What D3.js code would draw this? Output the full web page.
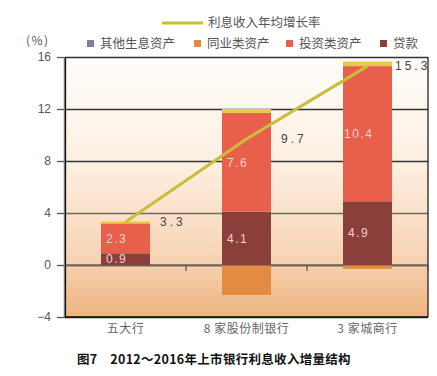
<!doctype html>
<html lang="zh">
<head>
<meta charset="UTF-8" />
<script src="https://d3js.org/d3.v7.min.js"></script>
<style>
  body { margin: 0; background: #fff; }
  svg { display: block; font-family: 'Noto Sans CJK SC', 'Noto Sans', sans-serif; }
</style>
</head>
<body>
<svg id="chart" width="437" height="376"></svg>
<script>
  // categories and series
  const categories = ['五大行', '8 家股份制银行', '3 家城商行']
  const loans = [0.9, 4.1, 4.9]
  const investment = [2.3, 7.6, 10.4]
  const interbank = [0, -2.3, -0.3]
  const otherAssets = [0.15, 0.3, 0.35]
  const growthRate = [3.3, 9.7, 15.3]
  const yTicks = [-4, 0, 4, 8, 12, 16]

  const colors = {
    other: '#8b78a6',
    otherBar: '#e9c94c',
    interbank: '#e38a43',
    investment: '#e8604c',
    loans: '#8b3f3b',
    line: '#cbbd3a'
  }

  const svg = d3.select('#chart')
  const margin = { left: 65, right: 9, top: 57, bottom: 59 }
  const W = 437 - margin.left - margin.right
  const H = 376 - margin.top - margin.bottom

  const x = d3.scaleBand().domain(categories).range([0, W]).paddingInner(0).paddingOuter(0)
  const y = d3.scaleLinear().domain([-4, 16]).range([H, 0])
  const barW = 49

  const defs = svg.append('defs')
  const grad = defs.append('linearGradient').attr('id', 'bg').attr('x1', 0).attr('y1', 0).attr('x2', 0).attr('y2', 1)
  grad.append('stop').attr('offset', '0%').attr('stop-color', '#fffdfb')
  grad.append('stop').attr('offset', '40%').attr('stop-color', '#fdf0e2')
  grad.append('stop').attr('offset', '75%').attr('stop-color', '#f8d6b7')
  grad.append('stop').attr('offset', '100%').attr('stop-color', '#efb482')

  const g = svg.append('g').attr('transform', `translate(${margin.left},${margin.top})`)

  // plot background
  g.append('rect').attr('width', W).attr('height', H).attr('fill', 'url(#bg)')
  g.append('line').attr('x1', 0).attr('x2', W).attr('y1', H - 1.5).attr('y2', H - 1.5)
    .attr('stroke', '#f2b0b0').attr('stroke-width', 1)

  // gridlines + y axis
  const yAxis = g.append('g')
    .call(d3.axisLeft(y).tickValues(yTicks).tickSize(-W).tickPadding(14).tickFormat(d => d < 0 ? '−' + Math.abs(d) : d))
  yAxis.select('.domain').remove()
  yAxis.selectAll('.tick line')
    .attr('stroke', d => d === 0 ? '#7a6d62' : (d === 4 ? '#6e6a66' : '#333'))
    .attr('stroke-width', d => d === 0 ? 2 : 1.3)
  yAxis.selectAll('.tick text').attr('fill', '#555').attr('font-size', 12).attr('font-family', 'Liberation Sans, Arial, sans-serif')
  // tick marks outside left
  yAxis.selectAll('.tick').append('line')
    .attr('x1', -8).attr('x2', 0).attr('stroke', '#555').attr('stroke-width', 1.3)

  // frame
  g.append('line').attr('x1', 0).attr('x2', 0).attr('y1', 0).attr('y2', H).attr('stroke', '#777').attr('stroke-width', 2.5)
  g.append('line').attr('x1', 0.5).attr('x2', 0.5).attr('y1', 0).attr('y2', H).attr('stroke', '#111').attr('stroke-width', 1)
  g.append('line').attr('x1', W).attr('x2', W).attr('y1', 0).attr('y2', H).attr('stroke', '#111').attr('stroke-width', 1.2)
  g.append('line').attr('x1', 0).attr('x2', W).attr('y1', H).attr('y2', H).attr('stroke', '#111').attr('stroke-width', 1.3)

  // x ticks on the zero line at band boundaries
  const bounds = categories.slice(1).map(c => x(c)).concat([W])
  g.selectAll('.xtick').data(bounds).enter().append('line')
    .attr('x1', d => d).attr('x2', d => d).attr('y1', y(0)).attr('y2', y(0) + 6)
    .attr('stroke', '#555').attr('stroke-width', 1.3)

  // stacked bars
  const bx = i => x(categories[i]) + (x.bandwidth() - barW) / 2
  categories.forEach((c, i) => {
    const segs = [
      { v0: 0, v1: loans[i], fill: colors.loans },
      { v0: loans[i], v1: loans[i] + investment[i], fill: colors.investment },
      { v0: loans[i] + investment[i], v1: loans[i] + investment[i] + otherAssets[i], fill: colors.otherBar },
      { v0: interbank[i], v1: 0, fill: colors.interbank }
    ]
    segs.forEach(s => {
      if (s.v1 === s.v0) return
      g.append('rect')
        .attr('x', bx(i)).attr('width', barW)
        .attr('y', y(Math.max(s.v0, s.v1)))
        .attr('height', Math.abs(y(s.v0) - y(s.v1)))
        .attr('fill', s.fill)
    })
    // inside labels
    const lab = (v, mid) => g.append('text')
      .attr('x', bx(i) + (v >= 10 ? 1 : 5)).attr('y', y(mid)).attr('dy', '0.35em')
      .attr('fill', '#f3d2c8').attr('font-size', 12).attr('letter-spacing', 1.5)
      .attr('font-family', 'Liberation Sans, Arial, sans-serif')
      .text(v.toFixed(1))
    lab(loans[i], loans[i] / 2)
    lab(investment[i], loans[i] + investment[i] / 2)
  })

  // zero line over bars
  g.append('line').attr('x1', 0).attr('x2', W).attr('y1', y(0)).attr('y2', y(0))
    .attr('stroke', '#5e5048').attr('stroke-width', 1.2).attr('opacity', 0.8)

  // growth line
  const line = d3.line().x((d, i) => x(categories[i]) + x.bandwidth() / 2).y(d => y(d))
  g.append('path').datum(growthRate).attr('d', line)
    .attr('fill', 'none').attr('stroke', colors.line).attr('stroke-width', 3)

  g.selectAll('.rate').data(growthRate).enter().append('text')
    .attr('x', (d, i) => bx(i) + barW + (i === 2 ? 3 : 10))
    .attr('y', d => y(d)).attr('dy', '0.35em')
    .attr('fill', '#444').attr('font-size', 12).attr('letter-spacing', 3)
    .attr('font-family', 'Liberation Sans, Arial, sans-serif')
    .text(d => d.toFixed(1))

  // category labels
  g.selectAll('.cat').data(categories).enter().append('text')
    .attr('x', d => x(d) + x.bandwidth() / 2).attr('y', H + 16)
    .attr('text-anchor', 'middle').attr('fill', '#666').attr('font-size', 12)
    .attr('letter-spacing', 0.5)
    .text(d => d)

  // unit
  svg.append('text').attr('x', 26).attr('y', 45).attr('fill', '#555').attr('font-size', 12)
    .attr('letter-spacing', 1.5).text('(%)')

  // legend
  svg.append('line').attr('x1', 162).attr('x2', 203).attr('y1', 23).attr('y2', 23)
    .attr('stroke', colors.line).attr('stroke-width', 3)
  svg.append('text').attr('x', 208).attr('y', 23).attr('dy', '0.35em').attr('fill', '#555').attr('font-size', 12.5).text('利息收入年均增长率')

  const legendItems = [
    { name: '其他生息资产', color: colors.other, x: 87 },
    { name: '同业类资产', color: colors.interbank, x: 194 },
    { name: '投资类资产', color: colors.investment, x: 286 },
    { name: '贷款', color: colors.loans, x: 380 }
  ]
  const lg = svg.selectAll('.lg').data(legendItems).enter().append('g')
  lg.append('rect').attr('x', d => d.x).attr('y', 40).attr('width', 7).attr('height', 7).attr('fill', d => d.color)
  lg.append('text').attr('x', d => d.x + 13).attr('y', 43.5).attr('dy', '0.35em')
    .attr('fill', '#555').attr('font-size', 12.5).text(d => d.name)

  // caption
  svg.append('text').attr('x', 77).attr('y', 360).attr('dy', '0.35em')
    .attr('font-size', 12.5).attr('font-weight', 'bold').attr('fill', '#111')
    .attr('letter-spacing', 0.3)
    .text('图7　2012～2016年上市银行利息收入增量结构')
</script>
</body>
</html>
